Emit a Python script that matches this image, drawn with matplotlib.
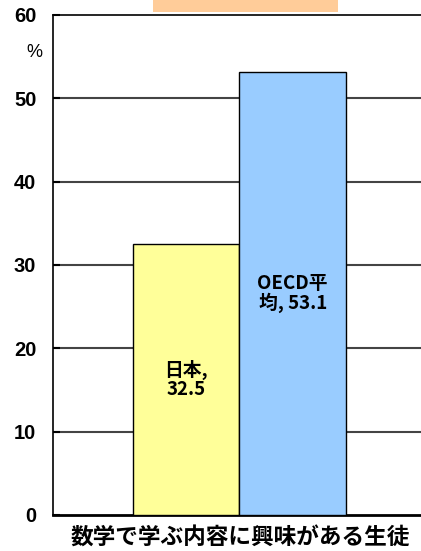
import matplotlib.pyplot as plt
from matplotlib.patches import Rectangle

plt.rcParams["font.family"] = ["Noto Sans CJK JP", "DejaVu Sans"]

CATEGORIES = ["日本", "OECD平均"]
VALUES     = [32.5, 53.1]
LABELS     = ["日本,\n32.5", "OECD平\n均, 53.1"]
COLORS     = ["#FFFF99", "#99CCFF"]
YTICKS     = [0, 10, 20, 30, 40, 50, 60]
XLABEL     = "数学で学ぶ内容に興味がある生徒"

fig = plt.figure(figsize=(4.21, 5.51), dpi=100)
ax = fig.add_axes([53 / 421, 36 / 551, 1.0 - 53 / 421, 500 / 551])

x = [0, 1]
bars = ax.bar(x, VALUES, width=1.0, color=COLORS, edgecolor="black",
              linewidth=1.0, zorder=3)
for b, lab in zip(bars, LABELS):
    ax.text(b.get_x() + b.get_width() / 2, b.get_height() / 2, lab,
            ha="center", va="center", fontsize=13.5, fontweight="bold",
            linespacing=1.0, zorder=4)

# 1 unit ~ 106.5 px, Japan bar starts at x=133
ax.set_xlim(-1.251, -1.251 + 368 / 106.5)
ax.set_ylim(0, 60)
ax.set_yticks(YTICKS)
ax.set_yticklabels([str(t) for t in YTICKS])
for lab in ax.get_yticklabels():
    lab.set_family("Liberation Sans")
    lab.set_fontweight("bold")
    lab.set_fontsize(14.5)
ax.tick_params(axis="y", direction="in", length=5, width=1.5, pad=12)
ax.set_xticks([])

for t in YTICKS[1:-1]:
    ax.axhline(t, color="#444444", linewidth=1.5, zorder=1)

for s in ["left", "top", "bottom"]:
    ax.spines[s].set_color("black")
ax.spines["left"].set_linewidth(1.2)
ax.spines["top"].set_linewidth(1.2)
ax.spines["bottom"].set_linewidth(2.0)
ax.spines["right"].set_visible(False)

ax.text(-19 / 368, 55.5, "%", transform=ax.get_yaxis_transform(),
        ha="center", va="center", fontsize=13, family="Liberation Sans")

fig.text(240 / 421, 1 - 538 / 551, XLABEL, ha="center", va="center",
         fontsize=16.3, fontweight="bold")

fig.add_artist(Rectangle((153 / 421, 1 - 12 / 551), 185 / 421, 12 / 551,
                         transform=fig.transFigure, facecolor="#FFCC99",
                         edgecolor="none"))

fig.savefig("out.png", dpi=100)
